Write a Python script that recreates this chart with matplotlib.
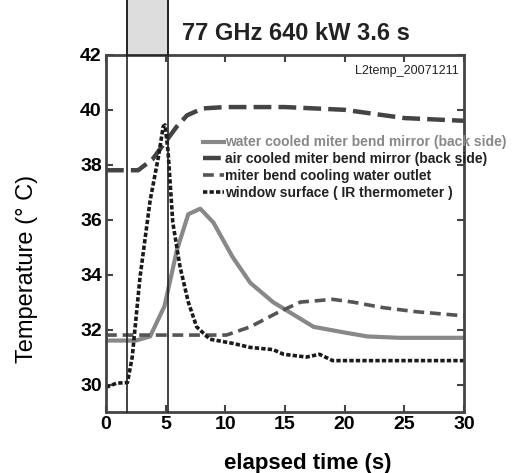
import matplotlib
matplotlib.use('Agg')
import matplotlib.pyplot as plt
from matplotlib.patches import Rectangle

plt.rcParams['font.family'] = ['Liberation Sans', 'DejaVu Sans']

# 数据 (读取自图)
t_water = [0, 2.5, 3.7, 4.9, 5.95, 6.9, 7.9, 9.0, 10.6, 12.1, 14.0, 17.4, 19.9, 21.9, 24.6, 30]
T_water = [31.6, 31.6, 31.75, 32.85, 34.9, 36.2, 36.4, 35.9, 34.65, 33.7, 33.0, 32.1, 31.9, 31.75, 31.7, 31.7]

t_air = [0, 2.7, 3.9, 5.95, 6.8, 8.1, 10, 15, 20, 25, 30]
T_air = [37.8, 37.8, 38.2, 39.4, 39.8, 40.05, 40.1, 40.1, 40.0, 39.7, 39.6]

t_outlet = [0, 10.1, 12.1, 14.3, 16.3, 19.0, 20.7, 23.2, 26.0, 30]
T_outlet = [31.8, 31.8, 32.1, 32.6, 33.0, 33.1, 33.0, 32.8, 32.65, 32.5]

t_window = [0, 0.9, 1.8, 2.2, 2.85, 3.7, 4.4, 4.8, 4.95, 5.2, 5.6, 6.2, 6.9, 7.6, 8.7,
            10.6, 12.1, 14.0, 14.9, 16.8, 17.9, 19.0, 30]
T_window = [29.9, 30.05, 30.07, 31.0, 33.9, 36.7, 38.3, 39.4, 39.45, 38.5, 35.9, 34.3, 33.0,
            32.1, 31.65, 31.5, 31.35, 31.27, 31.1, 31.0, 31.1, 30.87, 30.87]

labels = ['water cooled miter bend mirror (back side)',
          'air cooled miter bend mirror (back side)',
          'miter bend cooling water outlet',
          'window surface ( IR thermometer )']

shot = (1.8, 5.2)  # 入射时间

fig = plt.figure(figsize=(5.12, 4.73), dpi=100)
ax = fig.add_axes([0.207, 0.129, 0.699, 0.755])

ax.plot(t_water, T_water, color='#888888', lw=3, label=labels[0])
ax.plot(t_air, T_air, color='#444444', lw=3.2, dashes=(4, 1.6), label=labels[1])
ax.plot(t_outlet, T_outlet, color='#555555', lw=2.6, dashes=(3, 1.6), label=labels[2])
ax.plot(t_window, T_window, color='#1a1a1a', lw=2.6, dashes=(1.2, 0.6), label=labels[3])

ax.set_xlim(0, 30)
ax.set_ylim(29, 42)
ax.set_xticks([0, 5, 10, 15, 20, 25, 30])
ax.set_yticks([30, 32, 34, 36, 38, 40, 42])
ax.tick_params(direction='in', top=True, right=True, length=5, width=1.5,
               color='#444444', labelsize=14, pad=3)
for lab in ax.get_xticklabels() + ax.get_yticklabels():
    lab.set_fontweight('bold')
for s in ax.spines.values():
    s.set_linewidth(2)
    s.set_color('#444444')

# 入射区间
for x in shot:
    ax.plot([x, x], [29, 45.56], color='#222222', lw=1.2, clip_on=False, zorder=5)
ax.add_patch(Rectangle((shot[0], 42), shot[1] - shot[0], 3.56, facecolor='#dddddd',
                       edgecolor='#222222', lw=1.2, clip_on=False, zorder=4))

fig.text(0.355, 0.93, '77 GHz 640 kW 3.6 s', fontsize=17, fontweight='bold',
         va='center', ha='left', color='#222222')
ax.text(0.985, 0.955, 'L2temp_20071211', transform=ax.transAxes, fontsize=9,
        ha='right', va='center', color='#222222')

ax.set_xlabel('elapsed time (s)', fontsize=16, fontweight='bold')
ax.xaxis.set_label_coords(0.565, -0.115)
ax.set_ylabel('Temperature (° C)', fontsize=17)
ax.yaxis.set_label_coords(-0.19, 0.40)

leg = ax.legend(loc='upper left', bbox_to_anchor=(0.255, 0.79), frameon=False,
                fontsize=10, handlelength=1.5, handletextpad=0.1, labelspacing=0.2,
                borderaxespad=0)
for i, txt in enumerate(leg.get_texts()):
    txt.set_fontweight('bold')
    txt.set_color('#888888' if i == 0 else '#222222')

fig.savefig('out.png', dpi=100)
